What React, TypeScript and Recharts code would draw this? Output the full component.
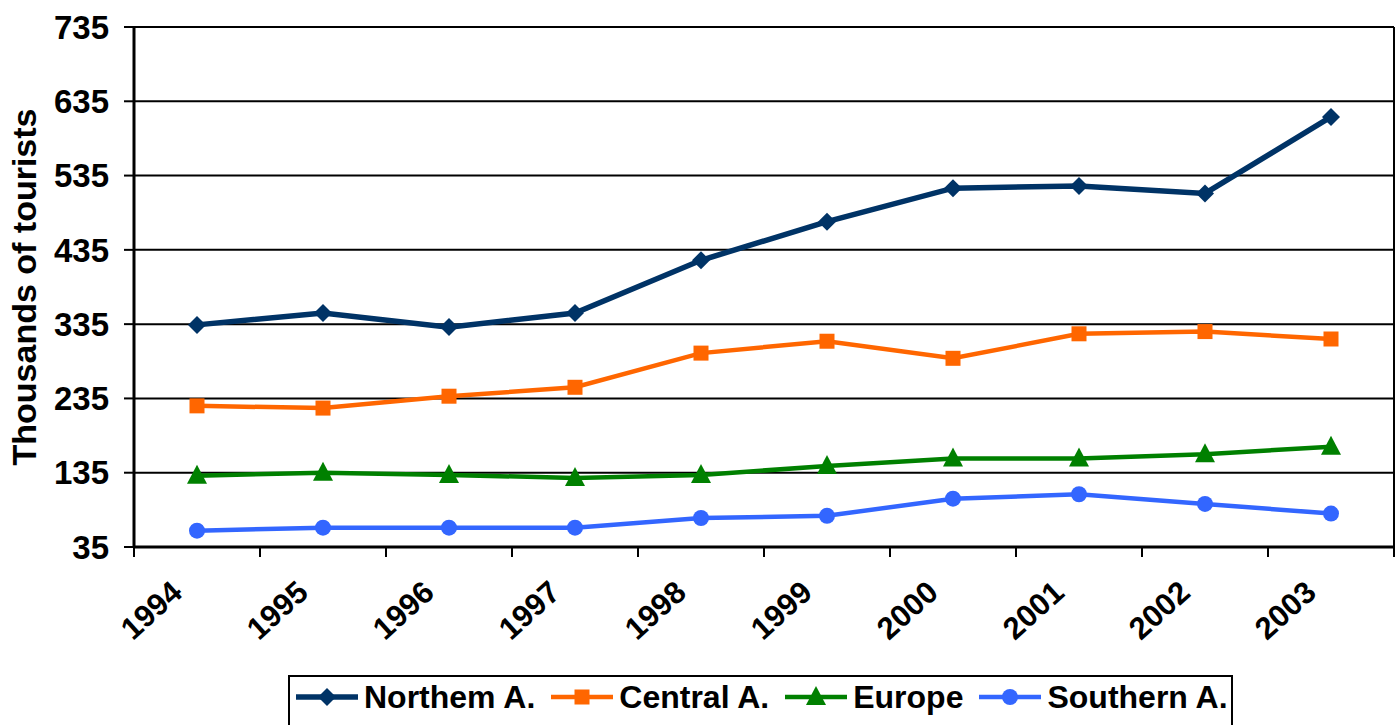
import { CartesianGrid, Line, LineChart, XAxis, YAxis } from 'recharts';

const years = ['1994', '1995', '1996', '1997', '1998', '1999', '2000', '2001', '2002', '2003'];
const northern = [334, 350, 331, 350, 421, 473, 518, 521, 511, 614];
const central = [225, 222, 238, 250, 296, 312, 289, 322, 325, 315];
const europe = [131, 135, 132, 128, 132, 144, 154, 154, 160, 170];
const southern = [57, 61, 61, 61, 74, 77, 100, 106, 93, 80];
const yTicks = [35, 135, 235, 335, 435, 535, 635, 735];

const data = years.map((year, i) => ({
  year,
  northern: northern[i],
  central: central[i],
  europe: europe[i],
  southern: southern[i],
}));

const FONT = '"Liberation Sans", Arial, sans-serif';

const series = [
  { key: 'northern', name: 'Northem A.', color: '#003366', width: 5.5, shape: 'diamond' },
  { key: 'central', name: 'Central A.', color: '#FF6600', width: 4.5, shape: 'square' },
  { key: 'europe', name: 'Europe', color: '#008000', width: 4.5, shape: 'triangle' },
  { key: 'southern', name: 'Southern A.', color: '#3366FF', width: 4.5, shape: 'circle' },
];

function Marker({ cx, cy, shape, color }: { cx: number; cy: number; shape: string; color: string }) {
  if (cx == null || cy == null) return null;
  if (shape === 'diamond') {
    const s = 9;
    return <polygon points={`${cx},${cy - s} ${cx + s},${cy} ${cx},${cy + s} ${cx - s},${cy}`} fill={color} />;
  }
  if (shape === 'square') {
    return <rect x={cx - 7.5} y={cy - 7.5} width={15} height={15} fill={color} />;
  }
  if (shape === 'triangle') {
    return <polygon points={`${cx},${cy - 11} ${cx + 10},${cy + 8} ${cx - 10},${cy + 8}`} fill={color} />;
  }
  return <circle cx={cx} cy={cy} r={8} fill={color} />;
}

function XTick(props: any) {
  const { x, y, payload, index } = props;
  const half = payload && payload.offset ? payload.offset : 63;
  const tx = x - 13;
  const ty = y + 48;
  return (
    <g>
      <line x1={x - half} x2={x - half} y1={y} y2={y + 10} stroke="#000" strokeWidth={2} />
      {index === years.length - 1 && (
        <line x1={x + half} x2={x + half} y1={y} y2={y + 10} stroke="#000" strokeWidth={2} />
      )}
      <text
        x={tx}
        y={ty}
        transform={`rotate(-42, ${tx}, ${ty})`}
        textAnchor="end"
        fontFamily={FONT}
        fontWeight="bold"
        fontSize={31}
        fill="#000"
      >
        {payload.value}
      </text>
    </g>
  );
}

function LegendIcon({ shape, color, width }: { shape: string; color: string; width: number }) {
  return (
    <svg width={62} height={22} style={{ display: 'block' }}>
      <line x1={0} x2={62} y1={11} y2={11} stroke={color} strokeWidth={width} />
      <Marker cx={31} cy={11} shape={shape} color={color} />
    </svg>
  );
}

export default function App() {
  return (
    <div style={{ position: 'absolute', left: 0, top: 0, width: 1396, height: 725, background: '#fff', overflow: 'hidden' }}>
      <LineChart width={1396} height={725} data={data} margin={{ top: 27, right: 0, left: 0, bottom: 0 }}>
        <CartesianGrid vertical={false} stroke="#000" strokeWidth={2} />
        <XAxis
          dataKey="year"
          scale="band"
          height={178}
          tickLine={false}
          tickSize={0}
          tickMargin={0}
          axisLine={{ stroke: '#000', strokeWidth: 3 }}
          tick={<XTick />}
          interval={0}
        />
        <YAxis
          domain={[35, 735]}
          ticks={yTicks}
          width={134}
          interval={0}
          tickSize={10}
          tickMargin={15}
          axisLine={{ stroke: '#000', strokeWidth: 3 }}
          tickLine={{ stroke: '#000', strokeWidth: 2 }}
          tick={{ fill: '#000', fontSize: 33, fontWeight: 'bold', fontFamily: FONT }}
          label={{
            value: 'Thousands of tourists',
            angle: -90,
            position: 'insideLeft',
            offset: 24,
            style: { textAnchor: 'middle', fontSize: 34, fontWeight: 'bold', fontFamily: FONT, fill: '#000' },
          }}
        />
        <YAxis
          yAxisId="right"
          orientation="right"
          domain={[35, 735]}
          ticks={yTicks}
          width={2}
          tick={false}
          tickLine={false}
          axisLine={{ stroke: '#000', strokeWidth: 2 }}
        />
        {series.map((s) => (
          <Line
            key={s.key}
            type="linear"
            dataKey={s.key}
            name={s.name}
            stroke={s.color}
            strokeWidth={s.width}
            dot={(p: any) => <Marker key={`${s.key}-${p.index}`} cx={p.cx} cy={p.cy} shape={s.shape} color={s.color} />}
            activeDot={false}
            isAnimationActive={false}
          />
        ))}
      </LineChart>
      <div
        style={{
          position: 'absolute',
          left: 288,
          top: 675,
          width: 945,
          height: 56,
          border: '2px solid #000',
          display: 'flex',
          alignItems: 'center',
          paddingLeft: 6,
          boxSizing: 'border-box',
          fontFamily: FONT,
          fontWeight: 'bold',
          fontSize: 32,
          color: '#000',
        }}
      >
        {series.map((s) => (
          <div key={s.key} style={{ display: 'flex', alignItems: 'center', marginRight: 16, marginTop: -12 }}>
            <LegendIcon shape={s.shape} color={s.color} width={s.width} />
            <span style={{ marginLeft: 6, whiteSpace: 'nowrap' }}>{s.name}</span>
          </div>
        ))}
      </div>
    </div>
  );
}
